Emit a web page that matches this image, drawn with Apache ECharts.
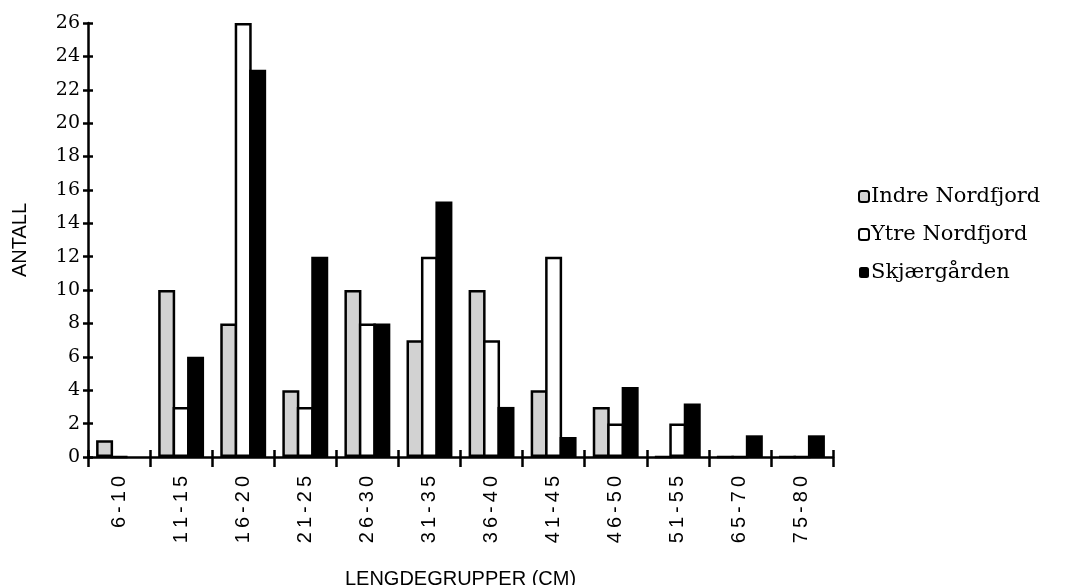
<!DOCTYPE html>
<html>
<head>
<meta charset="utf-8">
<script src="https://cdn.jsdelivr.net/npm/echarts@6/dist/echarts.min.js"></script>
<style>
html,body{margin:0;padding:0;background:#fff;}
#c{width:1067px;height:585px;}
</style>
</head>
<body>
<div id="c"></div>
<script>
const categories = ['6-10','11-15','16-20','21-25','26-30','31-35','36-40','41-45','46-50','51-55','65-70','75-80'];
const indreNordfjord = [1, 10, 8, 4, 10, 7, 10, 4, 3, 0, 0, 0];
const ytreNordfjord  = [0, 3, 26, 3, 8, 12, 7, 12, 2, 2, 0, 0];
const skjaergarden   = [0, 6, 23.2, 12, 8, 15.3, 3, 1.2, 4.2, 3.2, 1.3, 1.3];
const yTicks = [0, 2, 4, 6, 8, 10, 12, 14, 16, 18, 20, 22, 24, 26];

const serif = '"DejaVu Serif", "Liberation Serif", serif';
const sans = '"Liberation Sans", Arial, sans-serif';

const chart = echarts.init(document.getElementById('c'));
const base = {type:'bar', barWidth:17, barGap:'-15%', xAxisIndex:0, yAxisIndex:0};
chart.setOption({
  animation:false,
  backgroundColor:'#fff',
  grid:{left:88, right:234, top:23, bottom:128, containLabel:false, outerBoundsMode:'none'},
  legend:{
    orient:'vertical', left:853, top:181, itemGap:17,
    itemWidth:10, itemHeight:11,
    textStyle:{fontFamily:serif, fontSize:21, color:'#000', padding:[0,0,0,-3]},
    data:['Indre Nordfjord','Ytre Nordfjord','Skjærgården']
  },
  xAxis:[{
    type:'category', data:categories, boundaryGap:true,
    name:'LENGDEGRUPPER (CM)', nameLocation:'middle', nameGap:112,
    nameTextStyle:{fontFamily:sans, fontSize:20, color:'#000'},
    axisLine:{lineStyle:{color:'#000', width:2.5}},
    axisTick:{show:true, length:10, lineStyle:{color:'#000', width:2.5}},
    axisLabel:{rotate:90, margin:19, fontFamily:sans, fontSize:20, color:'#000',
      formatter:v=>v.split('').join('\u2009')},
    splitLine:{show:false}
  },{
    type:'category', data:categories, boundaryGap:true, position:'bottom',
    axisLine:{show:false},
    axisTick:{show:true, inside:true, length:7, lineStyle:{color:'#000', width:2.5}},
    axisLabel:{show:false}, splitLine:{show:false}
  }],
  yAxis:[{
    type:'value', min:0, max:26, interval:2,
    name:'ANTALL', nameLocation:'middle', nameGap:58, nameRotate:90,
    nameTextStyle:{fontFamily:sans, fontSize:20, color:'#000'},
    axisLine:{show:true, lineStyle:{color:'#000', width:2.5}},
    axisTick:{show:true, length:5, lineStyle:{color:'#000', width:2.5}},
    axisLabel:{fontFamily:serif, fontSize:19, color:'#000', margin:8,
      formatter:v=>yTicks.includes(v)?String(v):''},
    splitLine:{show:false}
  },{
    type:'value', min:0, max:26, interval:2, position:'left',
    axisLine:{show:false},
    axisTick:{show:true, inside:true, length:5, lineStyle:{color:'#000', width:2.5}},
    axisLabel:{show:false}, splitLine:{show:false}
  }],
  series:[
    Object.assign({}, base, {name:'Indre Nordfjord', data:indreNordfjord,
      itemStyle:{color:'#d2d2d2', borderColor:'#000', borderWidth:2.5}}),
    Object.assign({}, base, {name:'Ytre Nordfjord', data:ytreNordfjord,
      itemStyle:{color:'#fff', borderColor:'#000', borderWidth:2.5}}),
    Object.assign({}, base, {name:'Skjærgården', data:skjaergarden,
      itemStyle:{color:'#000', borderColor:'#000', borderWidth:0}})
  ]
});
</script>
</body>
</html>
